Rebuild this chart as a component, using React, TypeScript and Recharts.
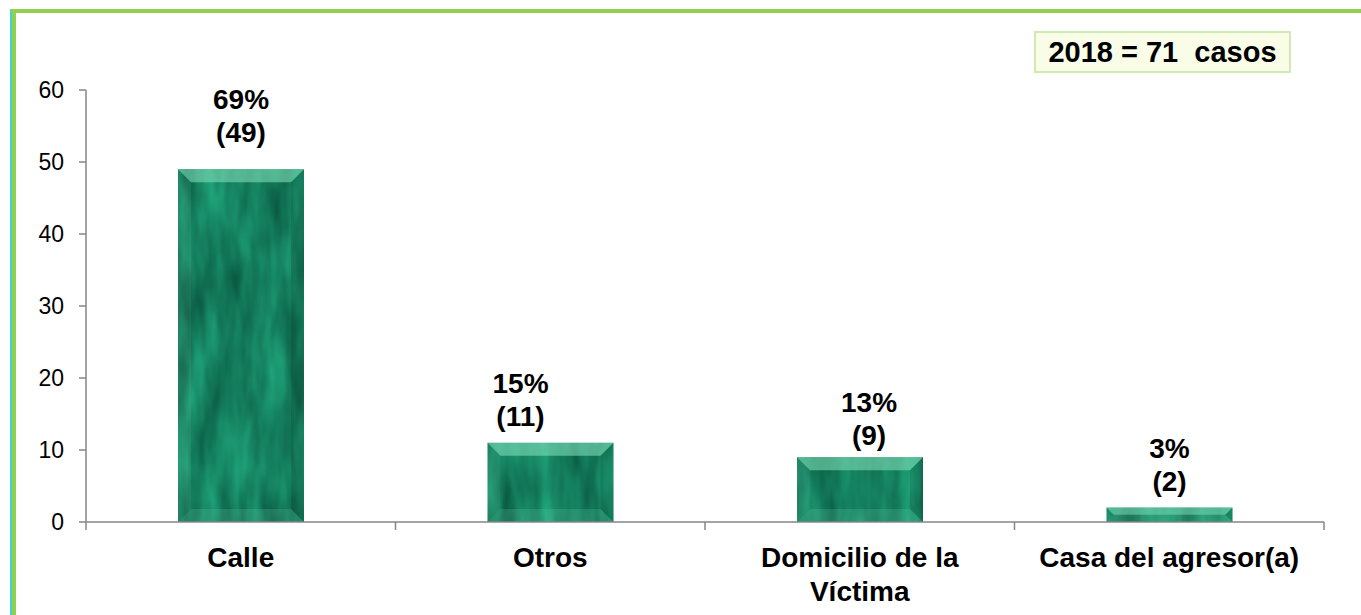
import React from 'react'
import { BarChart, Bar, XAxis, YAxis, LabelList } from 'recharts'

const categories = ['Calle', 'Otros', 'Domicilio de la Víctima', 'Casa del agresor(a)']
const cases = [49, 11, 9, 2]
const percents = [69, 15, 13, 3]
const yTicks = [0, 10, 20, 30, 40, 50, 60]
const year = 2018

// hand-placed data labels in the original sheet (relative nudges)
const labelShift = [
  { dx: 0, dy: -11 },
  { dx: -30, dy: 0 },
  { dx: 9, dy: 4 },
  { dx: 0, dy: 0 },
]

const data = categories.map((name, i) => ({ name, cases: cases[i] }))
const total = cases.reduce((a, b) => a + b, 0)

const FONT = '"Liberation Sans", Arial, Helvetica, sans-serif'
const AXIS = '#868686'
const CAT_FONT = 'bold 28px "Liberation Sans", Arial, sans-serif'

let ctx: CanvasRenderingContext2D | null = null
function measure(s: string) {
  if (!ctx) ctx = document.createElement('canvas').getContext('2d')
  if (!ctx) return s.length * 15
  ctx.font = CAT_FONT
  return ctx.measureText(s).width
}

// simple word wrap for the category labels
function wrap(label: string, maxWidth: number) {
  const words = label.split(' ')
  const lines: string[] = []
  let cur = ''
  words.forEach(w => {
    const next = cur ? cur + ' ' + w : w
    if (cur && measure(next) > maxWidth) {
      lines.push(cur)
      cur = w
    } else {
      cur = next
    }
  })
  if (cur) lines.push(cur)
  return lines
}

function BevelBar(props: any) {
  const { x, y, width: w, height: h } = props
  if (!h || h <= 0) return null
  const b = Math.min(13, h / 2, w / 2)
  return (
    <g>
      <rect x={x} y={y} width={w} height={h} fill="#17805f" filter="url(#marble)" />
      {/* top bevel */}
      <polygon
        points={`${x},${y} ${x + w},${y} ${x + w - b},${y + b} ${x + b},${y + b}`}
        fill="#7fdcb6"
        fillOpacity={0.6}
      />
      {/* left bevel */}
      <polygon
        points={`${x},${y} ${x + b},${y + b} ${x + b},${y + h - b} ${x},${y + h}`}
        fill="#ffffff"
        fillOpacity={0.05}
      />
      {/* right bevel */}
      <polygon
        points={`${x + w},${y} ${x + w - b},${y + b} ${x + w - b},${y + h - b} ${x + w},${y + h}`}
        fill="#000000"
        fillOpacity={0.12}
      />
      {/* bottom bevel */}
      <polygon
        points={`${x},${y + h} ${x + b},${y + h - b} ${x + w - b},${y + h - b} ${x + w},${y + h}`}
        fill="#6fd3ac"
        fillOpacity={0.2}
      />
    </g>
  )
}

function BarLabel(props: any) {
  const { x, y, width, index } = props
  const s = labelShift[index] || { dx: 0, dy: 0 }
  const cx = x + width / 2 + s.dx
  const second = y - 26 + s.dy
  return (
    <g fontFamily={FONT} fontSize={28} fontWeight="bold" fill="#000" textAnchor="middle">
      <text x={cx} y={second - 33} dominantBaseline="central">
        {percents[index]}%
      </text>
      <text x={cx} y={second} dominantBaseline="central">
        ({cases[index]})
      </text>
    </g>
  )
}

function CategoryTick(props: any) {
  const { x, y, payload, index, visibleTicksCount } = props
  const half = payload && payload.offset ? payload.offset : 0
  const last = index === visibleTicksCount - 1
  const lines = wrap(String(payload.value), 285)
  return (
    <g>
      <line x1={x - half} x2={x - half} y1={y} y2={y + 8} stroke={AXIS} strokeWidth={1.5} />
      {last && <line x1={x + half} x2={x + half} y1={y} y2={y + 8} stroke={AXIS} strokeWidth={1.5} />}
      <text x={x} y={y + 45} textAnchor="middle" fill="#000" fontSize={28} fontWeight="bold" fontFamily={FONT}>
        {lines.map((l, i) => (
          <tspan key={i} x={x} dy={i === 0 ? 0 : 34}>
            {l}
          </tspan>
        ))}
      </text>
    </g>
  )
}

export default function App() {
  return (
    <div style={{ position: 'absolute', left: 0, top: 0, width: 1361, height: 615, background: '#fff' }}>
      {/* page frame: green rule on top and left */}
      <div
        style={{
          position: 'absolute',
          left: 10,
          top: 9,
          width: 1351,
          height: 606,
          borderTop: '4px solid #92d050',
          borderLeft: '2px solid #3fd4cf',
          boxSizing: 'border-box',
        }}
      >
        <div style={{ position: 'absolute', left: 0, top: 0, bottom: 0, borderLeft: '4px solid #92d050' }} />
      </div>

      <div style={{ position: 'absolute', left: 0, top: 0 }}>
        <BarChart width={1361} height={615} data={data} margin={{ top: 90, right: 37, bottom: 3, left: 0 }}>
          <defs>
            <filter id="marble" x="0" y="0" width="1" height="1" colorInterpolationFilters="sRGB">
              <feTurbulence type="fractalNoise" baseFrequency="0.05 0.012" numOctaves={3} seed={7} result="n" />
              <feColorMatrix
                in="n"
                type="matrix"
                values="0.12 0 0 0 0.02  0.42 0 0 0 0.29  0.32 0 0 0 0.21  0 0 0 0 1"
                result="c"
              />
              <feComposite in="c" in2="SourceGraphic" operator="in" />
            </filter>
          </defs>
          <XAxis
            dataKey="name"
            height={90}
            interval={0}
            tickSize={0}
            tickMargin={0}
            tickLine={false}
            axisLine={{ stroke: AXIS, strokeWidth: 1.5 }}
            tick={<CategoryTick />}
          />
          <YAxis
            domain={[0, 60]}
            ticks={yTicks}
            interval={0}
            width={86}
            tickSize={7}
            tickMargin={15}
            axisLine={{ stroke: AXIS, strokeWidth: 1.5 }}
            tickLine={{ stroke: AXIS, strokeWidth: 1.5 }}
            tick={{ fontSize: 23, fill: '#000', fontFamily: FONT }}
          />
          <Bar dataKey="cases" barSize={126} shape={<BevelBar />} isAnimationActive={false}>
            <LabelList dataKey="cases" content={<BarLabel />} />
          </Bar>
        </BarChart>
      </div>

      <div
        style={{
          position: 'absolute',
          left: 1034,
          top: 31,
          width: 257,
          height: 42,
          boxSizing: 'border-box',
          background: '#f9fde8',
          border: '2px solid #cfeab3',
          fontFamily: FONT,
          fontWeight: 'bold',
          fontSize: 29,
          lineHeight: '38px',
          textAlign: 'center',
          whiteSpace: 'pre',
          color: '#000',
        }}
      >
        {`${year} = ${total}  casos`}
      </div>
    </div>
  )
}
